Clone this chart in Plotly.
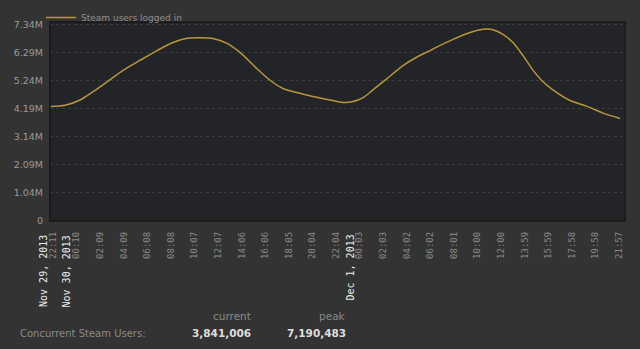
import plotly.graph_objects as go

# ---- data ----
times = [
    "2013-11-29 21:51", "2013-11-29 23:12", "2013-11-30 00:28", "2013-11-30 01:34",
    "2013-11-30 02:45", "2013-11-30 04:06", "2013-11-30 05:31", "2013-11-30 06:58",
    "2013-11-30 08:19", "2013-11-30 09:30", "2013-11-30 10:36", "2013-11-30 11:41",
    "2013-11-30 12:52", "2013-11-30 13:58", "2013-11-30 15:24", "2013-11-30 16:30",
    "2013-11-30 17:36", "2013-11-30 18:46", "2013-11-30 20:07", "2013-11-30 21:34",
    "2013-11-30 22:39", "2013-11-30 23:30", "2013-12-01 00:21", "2013-12-01 01:11",
    "2013-12-01 02:22", "2013-12-01 03:43", "2013-12-01 04:54", "2013-12-01 06:00",
    "2013-12-01 06:36", "2013-12-01 07:57", "2013-12-01 09:22", "2013-12-01 10:28",
    "2013-12-01 10:53", "2013-12-01 11:14", "2013-12-01 12:09", "2013-12-01 13:00",
    "2013-12-01 13:51", "2013-12-01 14:42", "2013-12-01 15:32", "2013-12-01 16:22",
    "2013-12-01 17:49", "2013-12-01 19:15", "2013-12-01 20:36", "2013-12-01 22:02",
]
users = [
    4.29e6, 4.33e6, 4.53e6, 4.84e6,
    5.21e6, 5.64e6, 6.01e6, 6.38e6,
    6.68e6, 6.84e6, 6.86e6, 6.83e6,
    6.65e6, 6.31e6, 5.70e6, 5.27e6,
    4.96e6, 4.81e6, 4.66e6, 4.53e6,
    4.44e6, 4.47e6, 4.62e6, 4.91e6,
    5.33e6, 5.82e6, 6.14e6, 6.38e6,
    6.52e6, 6.80e6, 7.06e6, 7.18e6,
    7.19e6, 7.17e6, 6.99e6, 6.68e6,
    6.19e6, 5.64e6, 5.21e6, 4.91e6,
    4.51e6, 4.29e6, 4.04e6, 3.84e6,
]
series_name = "Steam users logged in"

ytick_vals = [0, 1.0486e6, 2.0971e6, 3.1457e6, 4.1943e6, 5.2429e6, 6.2914e6, 7.34e6]
ytick_text = ["0", "1.04M", "2.09M", "3.14M", "4.19M", "5.24M", "6.29M", "7.34M"]

xtick_vals = [
    "2013-11-29 22:11", "2013-11-30 00:10", "2013-11-30 02:09", "2013-11-30 04:09",
    "2013-11-30 06:08", "2013-11-30 08:08", "2013-11-30 10:07", "2013-11-30 12:07",
    "2013-11-30 14:06", "2013-11-30 16:06", "2013-11-30 18:05", "2013-11-30 20:04",
    "2013-11-30 22:04", "2013-12-01 00:03", "2013-12-01 02:03", "2013-12-01 04:02",
    "2013-12-01 06:02", "2013-12-01 08:01", "2013-12-01 10:00", "2013-12-01 12:00",
    "2013-12-01 13:59", "2013-12-01 15:59", "2013-12-01 17:58", "2013-12-01 19:58",
    "2013-12-01 21:57",
]
xtick_text = [t[-5:] for t in xtick_vals]

date_label_pos = ["2013-11-29 22:11", "2013-11-30 00:10", "2013-12-01 00:03"]
date_label_text = ["Nov 29, 2013", "Nov 30, 2013", "Dec 1, 2013"]

current_users = 3841006
peak_users = 7190483

# ---- figure ----
L, R, T, B = 50, 15, 22, 128
W, H = 640, 349
pw, ph = W - L - R, H - T - B

def px_x(px):
    return (px - L) / pw

def px_y(py):
    return (H - B - py) / ph

fig = go.Figure()
fig.add_trace(go.Scatter(
    x=times, y=users, mode="lines", name=series_name,
    line=dict(color="#b8963e", width=1.5, shape="spline", smoothing=0.8),
    showlegend=True,
))

fig.update_layout(
    width=W, height=H,
    margin=dict(l=L, r=R, t=T, b=B, autoexpand=False),
    paper_bgcolor="#333333",
    plot_bgcolor="#232428",
    showlegend=True,
    legend=dict(
        x=px_x(41), y=px_y(3), xanchor="left", yanchor="top",
        orientation="h", bgcolor="rgba(0,0,0,0)",
        font=dict(family="DejaVu Sans", size=9, color="#8f8f8f"),
        itemwidth=30, tracegroupgap=0,
    ),
    xaxis=dict(
        type="date",
        range=["2013-11-29 21:56", "2013-12-01 22:27"],
        tickvals=xtick_vals, ticktext=xtick_text,
        tickangle=-90, showgrid=False, zeroline=False,
        ticks="", ticklabelstandoff=8,
        tickfont=dict(family="DejaVu Sans Mono", size=9, color="#8a8a8a"),
        showline=False,
    ),
    yaxis=dict(
        range=[0, 7.45e6],
        tickvals=ytick_vals, ticktext=ytick_text,
        showgrid=True, gridcolor="#3b3c41", griddash="dot", gridwidth=1,
        zeroline=False, ticks="", ticklabelstandoff=6,
        tickfont=dict(family="DejaVu Sans", size=9.5, color="#9a9a9a"),
        showline=False,
    ),
)

# plot frame
fig.add_shape(type="rect", xref="paper", yref="paper", x0=0, x1=1, y0=0, y1=1,
              line=dict(color="#1c1c1c", width=2), layer="above")

# date labels
for pos, txt in zip(date_label_pos, date_label_text):
    fig.add_annotation(
        x=pos, xref="x", y=px_y(233), yref="paper",
        text=txt, showarrow=False, textangle=-90,
        xanchor="center", yanchor="top", xshift=-10,
        font=dict(family="DejaVu Sans Mono", size=10, color="#ededed"),
    )

# summary text
def add_text(px, py, text, anchor, size, color, bold=False):
    fig.add_annotation(
        x=px_x(px), y=px_y(py), xref="paper", yref="paper",
        text=f"<b>{text}</b>" if bold else text, showarrow=False,
        xanchor=anchor, yanchor="middle",
        font=dict(family="DejaVu Sans", size=size, color=color),
    )

add_text(253, 316, "current", "right", 10.5, "#8a8a8a")
add_text(348, 316, "peak", "right", 10.5, "#8a8a8a")
add_text(18, 333, "Concurrent Steam Users:", "left", 10, "#8a8a8a")
add_text(253, 333, f"{current_users:,}", "right", 10.5, "#dedede", bold=True)
add_text(348, 333, f"{peak_users:,}", "right", 10.5, "#dedede", bold=True)

fig.write_html("out.html")
